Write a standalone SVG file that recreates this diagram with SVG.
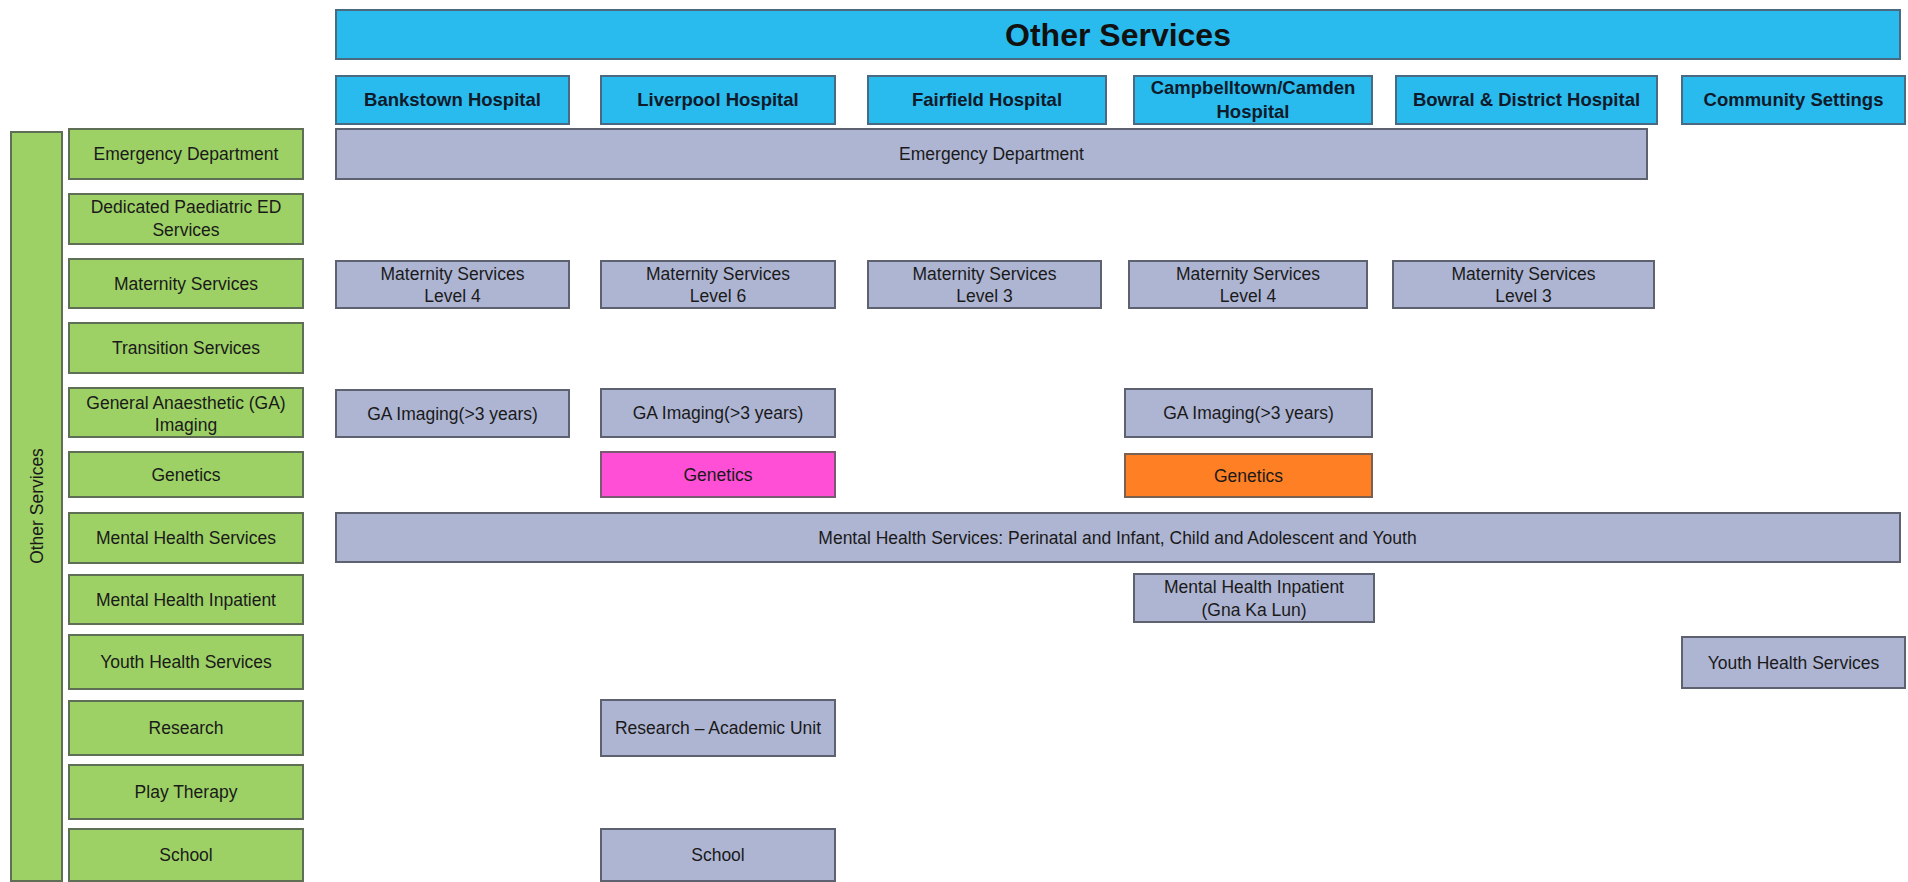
<svg xmlns="http://www.w3.org/2000/svg" width="1908" height="882" viewBox="0 0 1908 882">
<style>
  text { font-family: "Liberation Sans", Arial, sans-serif; fill: #1a1a1a; text-anchor: middle; }
  .blue { fill: #29BBEE; stroke: #4a6a82; stroke-width: 2; }
  .green { fill: #9DD165; stroke: #5f6f55; stroke-width: 2; }
  .gray { fill: #AEB5D3; stroke: #5d6170; stroke-width: 2; }
  .pink { fill: #FF4FD6; stroke: #7a5a70; stroke-width: 2; }
  .orange { fill: #FF7F24; stroke: #7a6050; stroke-width: 2; }
  .lbl { font-size: 17.5px; }
  .hdr { font-size: 18.5px; font-weight: bold; fill: #0f1a2a; }
  .title { font-size: 32px; font-weight: bold; fill: #111; }
</style>
<rect width="1908" height="882" fill="#ffffff"/>

<g id="title">
  <rect class="blue" x="336" y="10" width="1564" height="49"/>
  <text class="title" x="1118" y="46">Other Services</text>
</g>

<g id="hosp-bankstown"><rect class="blue" x="336" y="76" width="233" height="48"/><text class="hdr" x="452.5" y="106">Bankstown Hospital</text></g>
<g id="hosp-liverpool"><rect class="blue" x="601" y="76" width="234" height="48"/><text class="hdr" x="718" y="106">Liverpool Hospital</text></g>
<g id="hosp-fairfield"><rect class="blue" x="868" y="76" width="238" height="48"/><text class="hdr" x="987" y="106">Fairfield Hospital</text></g>
<g id="hosp-campbelltown"><rect class="blue" x="1134" y="76" width="238" height="48"/><text class="hdr" x="1253" y="94">Campbelltown/Camden</text><text class="hdr" x="1253" y="118">Hospital</text></g>
<g id="hosp-bowral"><rect class="blue" x="1396" y="76" width="261" height="48"/><text class="hdr" x="1526.5" y="106">Bowral &amp; District Hospital</text></g>
<g id="hosp-community"><rect class="blue" x="1682" y="76" width="223" height="48"/><text class="hdr" x="1793.5" y="106">Community Settings</text></g>

<g id="side-other-services">
  <rect class="green" x="11" y="132" width="51" height="749"/>
  <text class="lbl" transform="translate(42.5,506) rotate(-90)" x="0" y="0">Other Services</text>
</g>

<g id="row-ed"><rect class="green" x="69" y="129" width="234" height="50"/><text class="lbl" x="186" y="160">Emergency Department</text></g>
<g id="row-paed-ed"><rect class="green" x="69" y="194" width="234" height="50"/><text class="lbl" x="186" y="213">Dedicated Paediatric ED</text><text class="lbl" x="186" y="236">Services</text></g>
<g id="row-maternity"><rect class="green" x="69" y="259" width="234" height="49"/><text class="lbl" x="186" y="290">Maternity Services</text></g>
<g id="row-transition"><rect class="green" x="69" y="323" width="234" height="50"/><text class="lbl" x="186" y="354">Transition Services</text></g>
<g id="row-ga"><rect class="green" x="69" y="388" width="234" height="49"/><text class="lbl" x="186" y="409">General Anaesthetic (GA)</text><text class="lbl" x="186" y="431">Imaging</text></g>
<g id="row-genetics"><rect class="green" x="69" y="452" width="234" height="45"/><text class="lbl" x="186" y="481">Genetics</text></g>
<g id="row-mhs"><rect class="green" x="69" y="513" width="234" height="50"/><text class="lbl" x="186" y="544">Mental Health Services</text></g>
<g id="row-mhi"><rect class="green" x="69" y="575" width="234" height="49"/><text class="lbl" x="186" y="606">Mental Health Inpatient</text></g>
<g id="row-youth"><rect class="green" x="69" y="635" width="234" height="54"/><text class="lbl" x="186" y="668">Youth Health Services</text></g>
<g id="row-research"><rect class="green" x="69" y="701" width="234" height="54"/><text class="lbl" x="186" y="734">Research</text></g>
<g id="row-play"><rect class="green" x="69" y="765" width="234" height="54"/><text class="lbl" x="186" y="798">Play Therapy</text></g>
<g id="row-school"><rect class="green" x="69" y="829" width="234" height="52"/><text class="lbl" x="186" y="861">School</text></g>

<g id="ed-bar"><rect class="gray" x="336" y="129" width="1311" height="50"/><text class="lbl" x="991.5" y="160">Emergency Department</text></g>

<g id="mat-bankstown"><rect class="gray" x="336" y="261" width="233" height="47"/><text class="lbl" x="452.5" y="280">Maternity Services</text><text class="lbl" x="452.5" y="302">Level 4</text></g>
<g id="mat-liverpool"><rect class="gray" x="601" y="261" width="234" height="47"/><text class="lbl" x="718" y="280">Maternity Services</text><text class="lbl" x="718" y="302">Level 6</text></g>
<g id="mat-fairfield"><rect class="gray" x="868" y="261" width="233" height="47"/><text class="lbl" x="984.5" y="280">Maternity Services</text><text class="lbl" x="984.5" y="302">Level 3</text></g>
<g id="mat-campbelltown"><rect class="gray" x="1129" y="261" width="238" height="47"/><text class="lbl" x="1248" y="280">Maternity Services</text><text class="lbl" x="1248" y="302">Level 4</text></g>
<g id="mat-bowral"><rect class="gray" x="1393" y="261" width="261" height="47"/><text class="lbl" x="1523.5" y="280">Maternity Services</text><text class="lbl" x="1523.5" y="302">Level 3</text></g>

<g id="ga-bankstown"><rect class="gray" x="336" y="390" width="233" height="47"/><text class="lbl" x="452.5" y="420">GA Imaging(&gt;3 years)</text></g>
<g id="ga-liverpool"><rect class="gray" x="601" y="389" width="234" height="48"/><text class="lbl" x="718" y="419">GA Imaging(&gt;3 years)</text></g>
<g id="ga-campbelltown"><rect class="gray" x="1125" y="389" width="247" height="48"/><text class="lbl" x="1248.5" y="419">GA Imaging(&gt;3 years)</text></g>

<g id="genetics-liverpool"><rect class="pink" x="601" y="452" width="234" height="45"/><text class="lbl" x="718" y="481">Genetics</text></g>
<g id="genetics-campbelltown"><rect class="orange" x="1125" y="454" width="247" height="43"/><text class="lbl" x="1248.5" y="482">Genetics</text></g>

<g id="mhs-bar"><rect class="gray" x="336" y="513" width="1564" height="49"/><text class="lbl" x="1117.5" y="544">Mental Health Services: Perinatal and Infant, Child and Adolescent and Youth</text></g>

<g id="mhi-campbelltown"><rect class="gray" x="1134" y="574" width="240" height="48"/><text class="lbl" x="1254" y="593">Mental Health Inpatient</text><text class="lbl" x="1254" y="616">(Gna Ka Lun)</text></g>

<g id="youth-community"><rect class="gray" x="1682" y="637" width="223" height="51"/><text class="lbl" x="1793.5" y="669">Youth Health Services</text></g>

<g id="research-liverpool"><rect class="gray" x="601" y="700" width="234" height="56"/><text class="lbl" x="718" y="734">Research – Academic Unit</text></g>

<g id="school-liverpool"><rect class="gray" x="601" y="829" width="234" height="52"/><text class="lbl" x="718" y="861">School</text></g>

<g id="connectors"></g>
</svg>
